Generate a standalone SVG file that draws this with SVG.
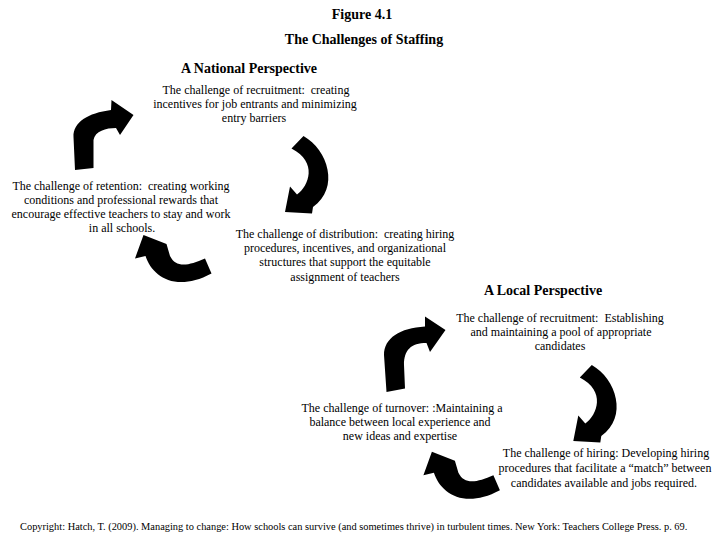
<svg xmlns="http://www.w3.org/2000/svg" xmlns:xlink="http://www.w3.org/1999/xlink" width="720" height="540" viewBox="0 0 720 540">
<style>
text{font-family:"Liberation Serif","Times New Roman",serif;fill:#000;white-space:pre}
.t{font-size:12px;text-anchor:middle}
.h{font-size:14px;font-weight:bold;text-anchor:middle}
.f{font-size:10.4px}
.arr{fill:#000;stroke:none}
</style>
<defs>
<path id="bendRight" class="arr" d="M 75 170 L 73.5 137 C 73 122, 88 113, 111 110 L 111.5 100 L 133.5 115 L 120 135 L 116 128 C 106 128, 95 131, 93.5 140 L 93.5 168 Z"/>
<path id="curveDown" class="arr" d="M 291.5 148.5 L 303.5 136 C 328 150, 340 188, 313 207 L 312 213.5 L 285 212 L 290 186.5 L 297 194.5 C 309 186, 318 162, 291.5 148.5 Z"/>
<path id="uTurn" class="arr" d="M 143.5 235 L 135 258.5 L 145.5 256 C 152 276, 175 293, 211.5 273.5 L 205 258.5 C 188 266, 176 268, 170 256 L 166.5 244 Z"/>
</defs>
<rect width="720" height="540" fill="#fff"/>
<g id="title">
<text class="h" x="362" y="19">Figure 4.1</text>
<text class="h" x="364" y="44">The Challenges of Staffing</text>
</g>
<g id="national-heading">
<text class="h" x="249" y="73">A National Perspective</text>
</g>
<g id="national-recruitment">
<text class="t" x="256" y="94" xml:space="preserve">The challenge of recruitment:  creating</text>
<text class="t" x="255" y="108">incentives for job entrants and minimizing</text>
<text class="t" x="254" y="122">entry barriers</text>
</g>
<g id="national-distribution">
<text class="t" x="345" y="238" xml:space="preserve">The challenge of distribution:  creating hiring</text>
<text class="t" x="345" y="252">procedures, incentives, and organizational</text>
<text class="t" x="345" y="266">structures that support the equitable</text>
<text class="t" x="345" y="281">assignment of teachers</text>
</g>
<g id="national-retention">
<text class="t" x="121" y="190" xml:space="preserve">The challenge of retention:  creating working</text>
<text class="t" x="121" y="204">conditions and professional rewards that</text>
<text class="t" x="121" y="218">encourage effective teachers to stay and work</text>
<text class="t" x="122" y="232">in all schools.</text>
</g>
<g id="local-heading">
<text class="h" x="543" y="295">A Local Perspective</text>
</g>
<g id="local-recruitment">
<text class="t" x="560" y="322" xml:space="preserve">The challenge of recruitment:  Establishing</text>
<text class="t" x="561" y="336">and maintaining a pool of appropriate</text>
<text class="t" x="560" y="350">candidates</text>
</g>
<g id="local-hiring">
<text class="t" x="606" y="457">The challenge of hiring: Developing hiring</text>
<text class="t" x="605" y="472">procedures that facilitate a “match” between</text>
<text class="t" x="604" y="487">candidates available and jobs required.</text>
</g>
<g id="local-turnover">
<text class="t" x="402" y="412">The challenge of turnover: :Maintaining a</text>
<text class="t" x="400" y="426">balance between local experience and</text>
<text class="t" x="400" y="440">new ideas and expertise</text>
</g>
<g id="connectors">
<use xlink:href="#bendRight"/>
<use xlink:href="#curveDown"/>
<use xlink:href="#uTurn"/>
<path class="arr" d="M 386.5 392 L 384 355 C 384 338, 400 328, 425 326.5 L 425 316.5 L 445.5 330 L 430 352 L 426.5 343 C 411 343, 404 350, 404 365 L 405 388.5 Z"/>
<use xlink:href="#curveDown" transform="translate(288.3,229)"/>
<use xlink:href="#uTurn" transform="translate(288.4,216.7)"/>
</g>
<g id="footer">
<text class="f" x="20" y="530">Copyright: Hatch, T. (2009). Managing to change: How schools can survive (and sometimes thrive) in turbulent times. New York: Teachers College Press. p. 69.</text>
</g>
</svg>
